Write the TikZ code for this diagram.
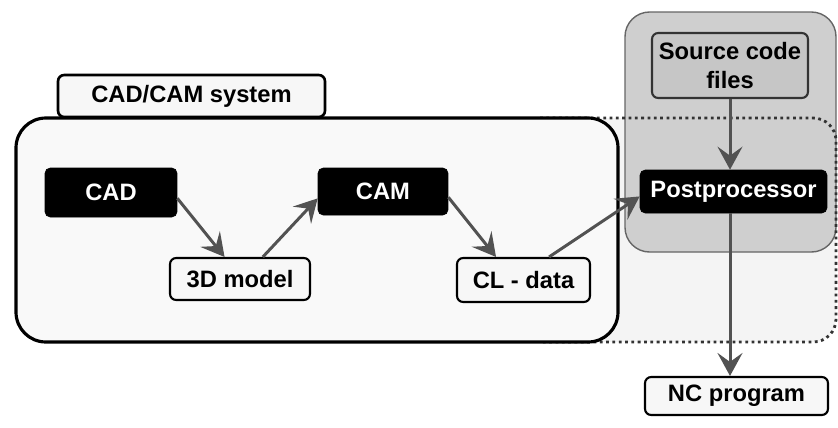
\documentclass[tikz,border=0pt]{standalone}
\usepackage{fontspec}
\setmainfont{Liberation Sans}
\usetikzlibrary{arrows.meta}

\tikzset{
	darkbox/.style={draw=black, fill=black, text=white, rounded corners=3pt, inner sep=0pt},
	lightbox/.style={draw=black, line width=1.2pt, fill=gray!6, rounded corners=3.5pt, inner sep=0pt},
	flow/.style={draw=black!68, line width=1.7pt, -{Stealth[length=0.46cm, width=0.5cm, inset=0.18cm]}}
}

\begin{document}
\begin{tikzpicture}[x=0.02cm, y=-0.02cm, font=\bfseries\fontsize{13.5}{16}\selectfont]
		\useasboundingbox (0, 0) rectangle (838, 427);
		
		% dotted area behind the postprocessor
		\fill[gray!9] (540, 118) [rounded corners=13pt] -- (836, 118) -- (836, 342) [sharp corners] -- (540, 342) -- cycle;
		% grey postprocessor frame
		\draw[black!60, line width=0.8pt, fill=gray!38, rounded corners=14pt] (625, 12) rectangle (836, 252);
		\draw[black!80, line width=1.6pt, dotted] (540, 118) [rounded corners=13pt] -- (836, 118) -- (836, 342) [sharp corners] -- (540, 342);
		
		% CAD/CAM system
		\draw[black, line width=1.8pt, fill=gray!5, rounded corners=17pt] (16, 118) rectangle (618, 342);
		\node[lightbox, line width=1.5pt, minimum width=5.34cm, minimum height=0.84cm] (tab) at (191.5, 96) {CAD/CAM system};
		
		\node[darkbox, minimum width=2.64cm, minimum height=0.98cm] (cad) at (111, 192.5) {CAD};
		\node[darkbox, minimum width=2.6cm, minimum height=0.94cm] (cam) at (383, 191.5) {CAM};
		\node[lightbox, minimum width=2.8cm, minimum height=0.84cm] (model) at (240, 279) {3D model};
		\node[lightbox, minimum width=2.66cm, minimum height=0.88cm] (cldata) at (523.5, 280) {CL - data};
		
		\node[lightbox, draw=black!80, fill=gray!45, align=center, minimum width=3.12cm, minimum height=1.3cm] (source) at (730, 65.5) {Source code\\files};
		\node[darkbox, minimum width=3.74cm, minimum height=0.86cm] (post) at (733.5, 191.5) {Postprocessor};
		\node[lightbox, minimum width=3.66cm, minimum height=0.76cm] (nc) at (736.5, 396) {NC program};
		
		% flow of data
		\draw[flow] (cad.-5) -- (model.125);
		\draw[flow] (model.44) -- (cam.186);
		\draw[flow] (cam.-5) -- (cldata.140);
		\draw[flow] (cldata.42) -- (post.183);
		\draw[flow] (source.south) -- (source.south |- post.north);
		\draw[flow] (source.south |- post.south) -- (source.south |- nc.north);
	\end{tikzpicture}
\end{document}
